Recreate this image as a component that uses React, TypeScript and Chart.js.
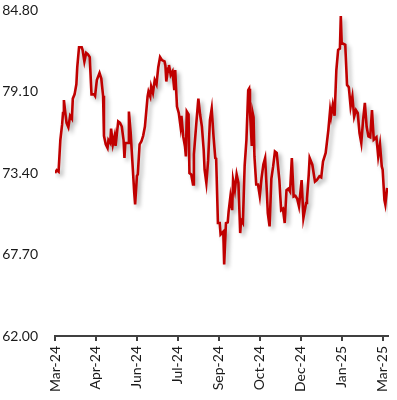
import React, { useEffect, useRef } from "react";
import { Chart, registerables } from "chart.js";

Chart.register(...registerables);

// days since 1 Mar 2024
const days = [
  0, 2, 4, 6, 8, 9, 10, 12, 13, 15, 17, 19, 20, 22, 24, 25, 27, 30, 31, 33, 35, 37, 39, 41, 44, 45, 47, 50, 52, 54,
  55, 57, 59, 60, 62, 63, 65, 67, 68, 71, 73, 75, 77, 78, 79, 82, 83, 85, 87, 89, 90, 92, 93, 95, 97, 99, 101, 104,
  105, 107, 108, 110, 112, 114, 116, 118, 120, 123, 124, 125, 127, 128, 130, 132, 134, 135, 137, 139, 141, 142, 144,
  146, 147, 148, 150, 151, 153, 155, 156, 159, 161, 163, 165, 167, 168, 170, 172, 174, 176, 178, 180, 181, 183, 185,
  186, 189, 190, 192, 194, 195, 197, 199, 200, 202, 204, 206, 208, 209, 211, 213, 215, 217, 218, 219, 221, 222, 223,
  224, 226, 228, 230, 232, 234, 236, 238, 239, 241, 243, 245, 247, 249, 252, 253, 254, 256, 258, 260, 262, 264, 266,
  268, 270, 272, 274, 277, 279, 282, 283, 285, 286, 289, 292, 294, 297, 299, 301, 304, 307, 309, 310, 312, 314, 316,
  318, 320, 321, 322, 326, 328, 330, 332, 334, 336, 338, 340, 342, 344, 346, 348, 350, 352, 354, 356, 358, 361, 363,
  365, 367, 368, 370, 371, 373,
];

const prices = [
  73.4, 73.6, 73.5, 75.7, 76.8, 77.6, 78.5, 77.4, 76.9, 76.6, 77.4, 77.2, 78.6, 78.9, 79.6, 80.8, 82.2, 82.2, 82.0,
  81.2, 81.8, 81.7, 81.5, 78.9, 78.9, 78.8, 79.9, 80.4, 80.0, 78.8,
  76.0, 75.4, 75.15, 75.7, 75.5, 76.5, 75.4, 76.0, 75.3, 77.0, 76.9, 76.65, 75.7, 74.45, 75.5, 75.5, 77.7, 76.2, 74.1,
  72.0, 71.2, 73.2, 73.3, 75.4, 75.6, 76.0, 76.65, 78.75,
  79.1, 78.75, 79.45, 79.0, 79.9, 79.6, 80.8, 81.5, 81.3, 81.2, 80.9, 79.8, 80.7, 80.96, 80.26, 80.5, 79.2, 80.6, 78.05,
  77.6, 76.65, 77.4, 75.96,
  75.26, 74.56, 77.7, 77.5, 73.4, 73.3, 72.6, 74.7, 77.1, 78.6, 77.47, 76.65, 75.0, 73.63, 72.7, 74.3, 77.1, 77.9,
  76.0, 74.45, 74.4, 69.9, 69.9,
  69.1, 69.3, 67.0, 69.9, 69.95, 70.7, 71.75, 70.8, 72.9, 72.2, 73.3, 72.7, 69.2, 70.1, 69.9, 73.9, 75.7, 79.2, 79.3,
  77.7, 75.3, 77.6, 77.3,
  74.56, 72.6, 72.6, 71.8, 73.05, 74.0, 74.45, 72.0, 70.6, 69.67, 73.0, 73.86, 74.9, 74.8, 72.9, 71.8, 70.8, 70.9,
  69.9, 72.2, 72.3, 72.1, 74.45,
  71.75, 71.8, 71.6, 71.07, 72.9, 70.26, 71.3, 71.6, 73.3, 74.45, 73.98, 72.8, 72.9, 73.17, 73.1, 74.2, 74.8, 76.4,
  77.8, 77.35, 78.17, 77.4, 80.6,
  82.0, 82.1, 84.38, 82.5, 82.36, 79.56, 79.4, 78.05, 78.75, 77.35, 77.8, 77.6, 76.2, 75.5, 77.1, 78.3, 76.65, 75.96,
  75.9, 77.8, 75.73, 75.9, 74.56,
  75.4, 73.86, 73.63, 71.5, 71.2, 72.35,
];

const tickDays = [0, 46, 92, 138, 184, 230, 276, 322, 368];
const tickLabels = ["Mar-24", "Apr-24", "Jun-24", "Jul-24", "Sep-24", "Oct-24", "Dec-24", "Jan-25", "Mar-25"];
const yTicks = [62.0, 67.7, 73.4, 79.1, 84.8];

const shadowPlugin = {
  id: "lineShadow",
  beforeDatasetDraw(chart: any) {
    const ctx = chart.ctx;
    ctx.save();
    ctx.shadowColor = "rgba(0,0,0,0.3)";
    ctx.shadowBlur = 4;
    ctx.shadowOffsetX = 3;
    ctx.shadowOffsetY = 3;
  },
  afterDatasetDraw(chart: any) {
    chart.ctx.restore();
  },
};

export default function App() {
  const ref = useRef<HTMLCanvasElement | null>(null);

  useEffect(() => {
    if (!ref.current) return;
    const font = { family: "Lato, 'Open Sans', sans-serif", size: 14 };
    const chart = new Chart(ref.current, {
      type: "line",
      data: {
        datasets: [
          {
            data: days.map((d, i) => ({ x: d, y: prices[i] })),
            borderColor: "#C00000",
            borderWidth: 2.6,
            pointRadius: 0,
            tension: 0,
            fill: false,
          },
        ],
      },
      plugins: [shadowPlugin],
      options: {
        animation: false,
        responsive: true,
        maintainAspectRatio: false,
        layout: { padding: { left: 0, right: 9, top: 10, bottom: 0 } },
        plugins: { legend: { display: false }, tooltip: { enabled: false } },
        scales: {
          x: {
            type: "linear",
            min: 0,
            max: 374,
            afterBuildTicks: (scale: any) => {
              scale.ticks = tickDays.map((v) => ({ value: v }));
            },
            afterFit: (scale: any) => {
              scale.height = 64;
              scale.paddingLeft = 0;
              scale.paddingRight = 0;
            },
            ticks: {
              autoSkip: false,
              minRotation: 90,
              maxRotation: 90,
              padding: 5,
              color: "#1a1a1a",
              font,
              callback: (value: any) => {
                const i = tickDays.indexOf(Number(value));
                return i >= 0 ? tickLabels[i] : "";
              },
            },
            grid: {
              drawOnChartArea: false,
              drawTicks: true,
              tickLength: 5,
              color: "#404040",
              lineWidth: 2,
            },
            border: { display: true, color: "#404040", width: 2 },
          },
          y: {
            min: 62,
            max: 84.8,
            afterBuildTicks: (scale: any) => {
              scale.ticks = yTicks.map((v) => ({ value: v }));
            },
            afterFit: (scale: any) => {
              scale.width = 55;
              scale.paddingTop = 0;
              scale.paddingBottom = 0;
            },
            ticks: {
              padding: 17,
              color: "#1a1a1a",
              font,
              callback: (value: any) => Number(value).toFixed(2),
            },
            grid: { display: false, drawTicks: false },
            border: { display: false },
          },
        },
      },
    } as any);
    return () => chart.destroy();
  }, []);

  return (
    <div style={{ position: "absolute", left: 0, top: 0, width: 397, height: 400, background: "#fff" }}>
      <canvas ref={ref} />
    </div>
  );
}
